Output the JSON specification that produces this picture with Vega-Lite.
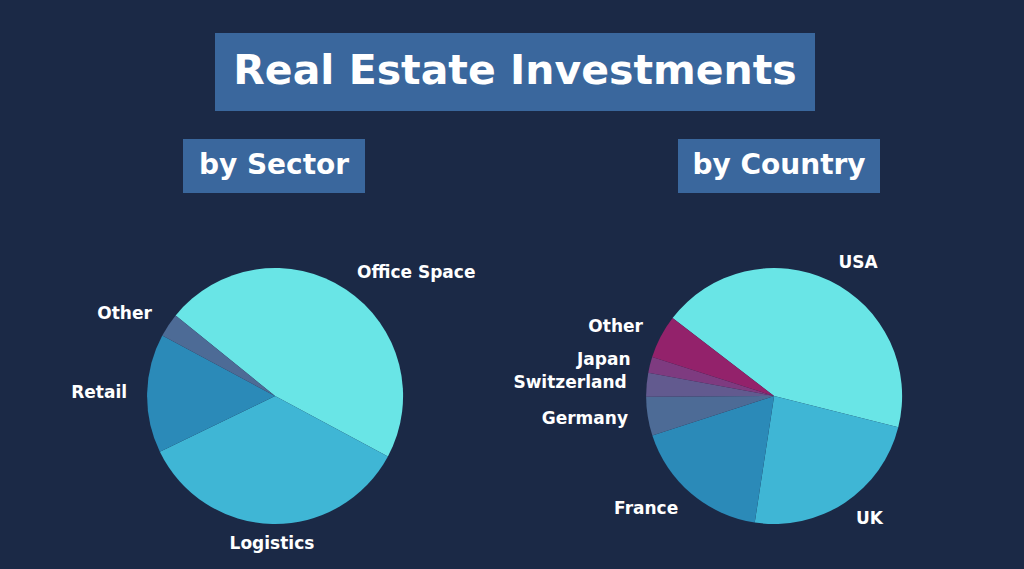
{
  "$schema": "https://vega.github.io/schema/vega-lite/v6.json",
  "background": "#1b2946",
  "padding": 0,
  "config": {
    "view": {"stroke": null},
    "font": "DejaVu Sans",
    "text": {"font": "DejaVu Sans", "fontWeight": "bold", "fill": "white"}
  },
  "datasets": {
    "sector": [
      {"sector": "Office Space", "share": 47, "rank": 1},
      {"sector": "Logistics", "share": 35, "rank": 2},
      {"sector": "Retail", "share": 15, "rank": 3},
      {"sector": "Other", "share": 3, "rank": 4}
    ],
    "country": [
      {"country": "USA", "share": 43.5, "rank": 1},
      {"country": "UK", "share": 23.5, "rank": 2},
      {"country": "France", "share": 17.6, "rank": 3},
      {"country": "Germany", "share": 4.9, "rank": 4},
      {"country": "Switzerland", "share": 3.0, "rank": 5},
      {"country": "Japan", "share": 2.0, "rank": 6},
      {"country": "Other", "share": 5.5, "rank": 7}
    ]
  },
  "vconcat": [
    {"width": 1024, "height": 33, "data": {"values": [{}]}, "mark": {"type": "text", "text": ""}},
    {
      "hconcat": [
        {"width": 215, "height": 78, "data": {"values": [{}]}, "mark": {"type": "text", "text": ""}},
        {
          "width": 600, "height": 78,
          "view": {"fill": "#3a679d", "stroke": null},
          "data": {"values": [{"label": "Real Estate Investments"}]},
          "mark": {"type": "text", "fontSize": 41, "baseline": "middle", "align": "center"},
          "encoding": {"text": {"field": "label"}}
        }
      ],
      "spacing": 0
    },
    {"width": 1024, "height": 28, "data": {"values": [{}]}, "mark": {"type": "text", "text": ""}},
    {
      "hconcat": [
        {"width": 183, "height": 54, "data": {"values": [{}]}, "mark": {"type": "text", "text": ""}},
        {
          "width": 182, "height": 54,
          "view": {"fill": "#3a679d", "stroke": null},
          "data": {"values": [{"label": "by Sector"}]},
          "mark": {"type": "text", "fontSize": 28, "baseline": "middle", "align": "center"},
          "encoding": {"text": {"field": "label"}}
        },
        {"width": 313, "height": 54, "data": {"values": [{}]}, "mark": {"type": "text", "text": ""}},
        {
          "width": 202, "height": 54,
          "view": {"fill": "#3a679d", "stroke": null},
          "data": {"values": [{"label": "by Country"}]},
          "mark": {"type": "text", "fontSize": 28, "baseline": "middle", "align": "center"},
          "encoding": {"text": {"field": "label"}}
        }
      ],
      "spacing": 0
    },
    {"width": 1024, "height": 30, "data": {"values": [{}]}, "mark": {"type": "text", "text": ""}},
    {
      "width": 1024, "height": 346,
      "layer": [
        {
          "data": {"name": "sector"},
          "transform": [
            {"window": [{"op": "sum", "field": "share", "as": "cum"}], "sort": [{"field": "rank"}]}
          ],
          "encoding": {
            "x": {"datum": "Sector", "type": "nominal", "axis": null, "scale": {"type": "point", "domain": ["Sector", "Country"], "padding": 0.526, "align": 0.524}},
            "theta": {"field": "share", "type": "quantitative", "stack": true, "scale": {"domain": [0, 100], "range": [-0.89, 5.393]}},
            "order": {"field": "rank"}
          },
          "layer": [
            {
              "mark": {"type": "arc", "outerRadius": 128},
              "encoding": {
                "color": {
                  "field": "sector", "type": "nominal", "legend": null,
                  "scale": {
                    "domain": ["Office Space", "Logistics", "Retail", "Other"],
                    "range": ["#69e5e6", "#3fb6d5", "#2b8ab8", "#4d6b96"]
                  }
                }
              }
            },
            {
              "mark": {
                "type": "text", "radius": 148, "fontSize": 17, "baseline": "middle",
                "align": {"expr": "sin(-0.89 + 2*PI*(datum.cum - datum.share/2)/100) > 0.3 ? 'left' : (sin(-0.89 + 2*PI*(datum.cum - datum.share/2)/100) < -0.3 ? 'right' : 'center')"}
              },
              "encoding": {"text": {"field": "sector"}}
            }
          ]
        },
        {
          "data": {"name": "country"},
          "transform": [
            {"window": [{"op": "sum", "field": "share", "as": "cum"}], "sort": [{"field": "rank"}]}
          ],
          "encoding": {
            "x": {"datum": "Country", "type": "nominal", "axis": null, "scale": {"type": "point", "domain": ["Sector", "Country"], "padding": 0.526, "align": 0.524}},
            "theta": {"field": "share", "type": "quantitative", "stack": true, "scale": {"domain": [0, 100], "range": [-0.916, 5.367]}},
            "order": {"field": "rank"}
          },
          "layer": [
            {
              "mark": {"type": "arc", "outerRadius": 128},
              "encoding": {
                "color": {
                  "field": "country", "type": "nominal", "legend": null,
                  "scale": {
                    "domain": ["USA", "UK", "France", "Germany", "Switzerland", "Japan", "Other"],
                    "range": ["#69e5e6", "#3fb6d5", "#2b8ab8", "#4d6b96", "#625a8f", "#7e3b80", "#93226b"]
                  }
                }
              }
            },
            {
              "mark": {
                "type": "text", "radius": 148, "fontSize": 17, "baseline": "middle",
                "align": {"expr": "sin(-0.916 + 2*PI*(datum.cum - datum.share/2)/100) > 0.3 ? 'left' : (sin(-0.916 + 2*PI*(datum.cum - datum.share/2)/100) < -0.3 ? 'right' : 'center')"}
              },
              "encoding": {"text": {"field": "country"}}
            }
          ]
        }
      ],
      "resolve": {"scale": {"theta": "independent", "color": "independent"}}
    }
  ],
  "spacing": 0
}
